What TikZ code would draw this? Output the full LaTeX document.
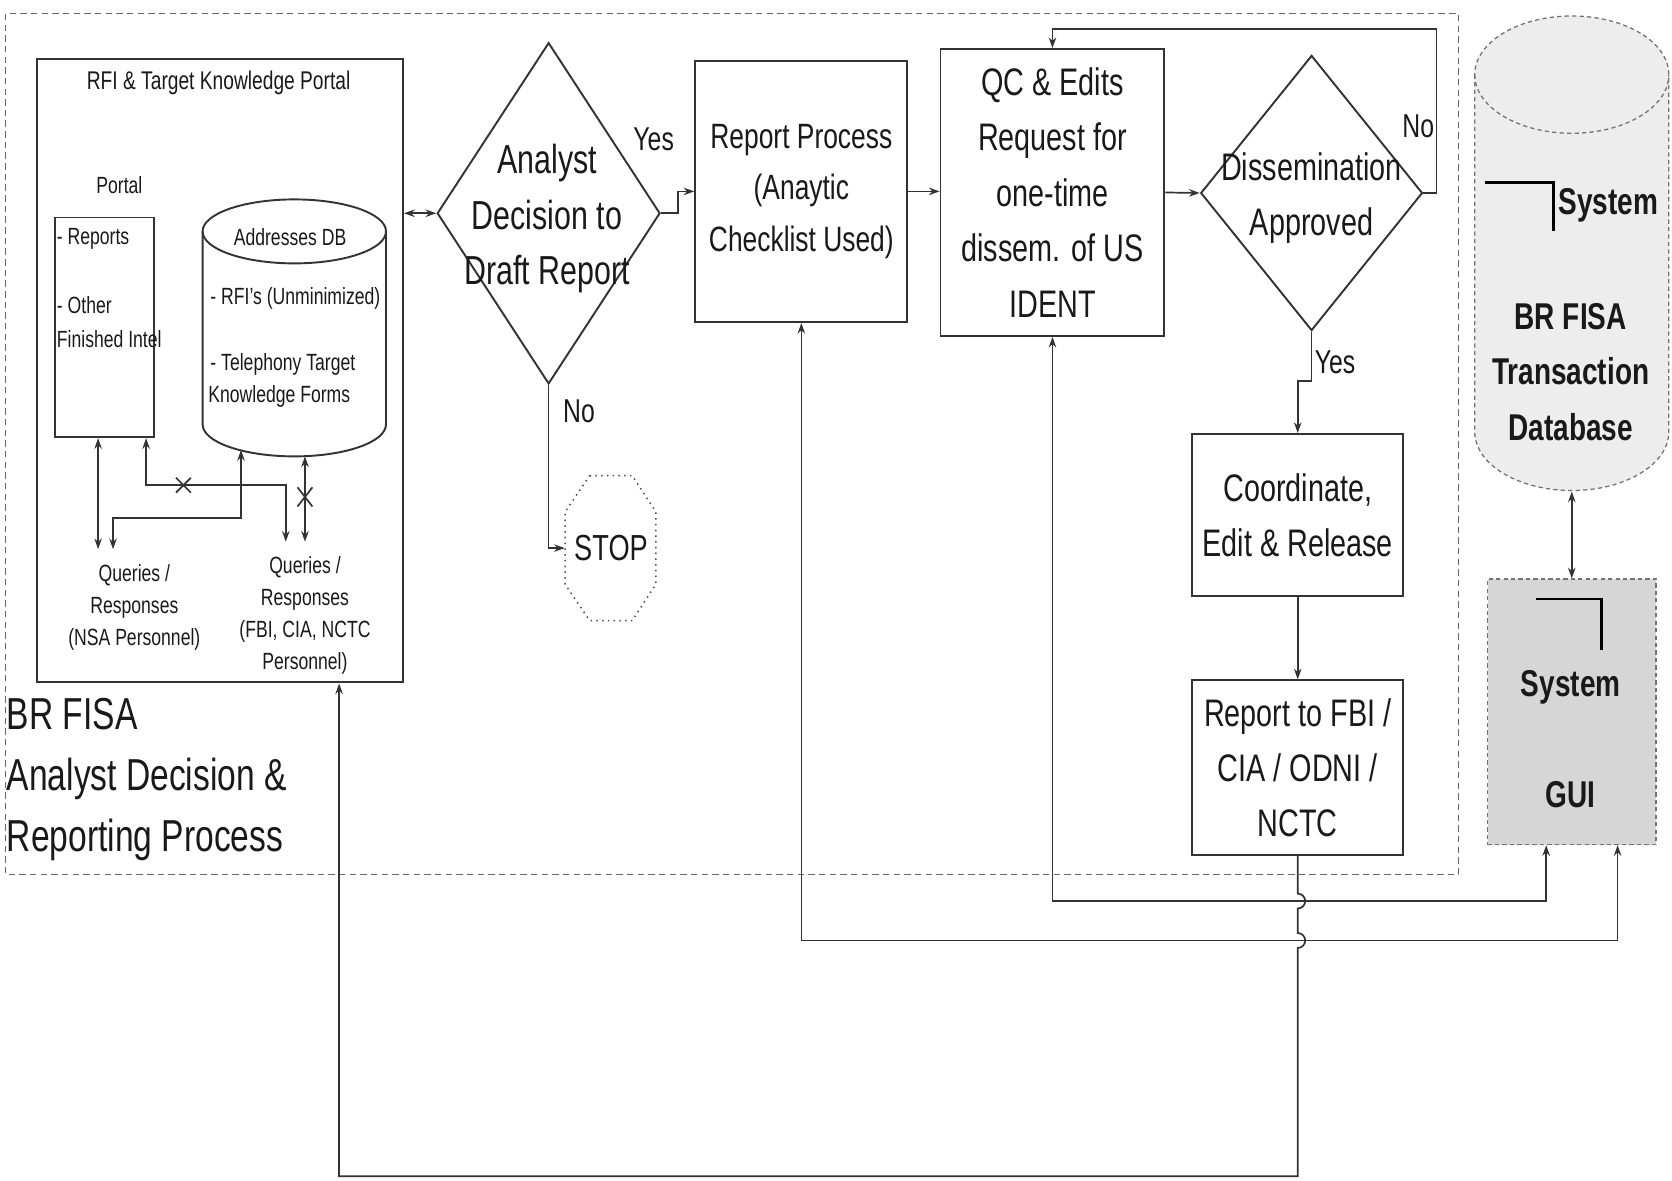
\documentclass[tikz,border=0pt]{standalone}
\usepackage{fontspec}
\setmainfont[FakeStretch=0.75]{Liberation Sans}
\usetikzlibrary{arrows.meta,shapes.geometric,calc}
\begin{document}
\begin{tikzpicture}[x=0.5pt,y=-0.5pt,
  ln/.style={draw=black!80, line width=0.8pt},
  arr/.style={ln, -{Stealth[length=5pt,width=3.5pt]}},
  darr/.style={ln, {Stealth[length=5pt,width=3.5pt]}-{Stealth[length=5pt,width=3.5pt]}},
  box/.style={draw=black!80, line width=0.9pt, inner sep=0pt, align=center, text=black!90},
  diam/.style={draw=black!80, line width=0.9pt, diamond, inner sep=0pt},
  big/.style={font=\fontsize{18}{26}\selectfont, align=center, text=black!90},
  small/.style={font=\fontsize{11}{15}\selectfont, align=center, text=black!90},
  lbl/.style={font=\fontsize{15.5}{18}\selectfont, text=black!90},
  rb/.style={font=\bfseries\fontsize{17.5}{26}\selectfont, align=center, text=black!90},
  ]
\useasboundingbox (0,0) rectangle (1568,1107);

% outer dashed frame
\draw[black!60, line width=0.6pt, dash pattern=on 3pt off 2pt] (5,13) rectangle (1368,820);

% ---------- portal ----------
\node[box, minimum width=171.5pt, minimum height=292.5pt] (portal) at (206.5,347.5) {};
\node[small, font=\fontsize{12}{15}\selectfont] (ptitle) at (205,78) {RFI \& Target Knowledge Portal};
\node[small] (plabel) at (112,174) {Portal};
\node[box, minimum width=46pt, minimum height=103pt] (reports) at (98,307) {};
\node[small, anchor=west, inner sep=0pt] (r1) at (53,224) {- Reports};
\node[small, anchor=west, inner sep=0pt] (r2) at (53,286) {- Other};
\node[small, anchor=west, inner sep=0pt] (r3) at (53,318) {Finished Intel};

% addresses DB cylinder
\draw[black!80, line width=0.9pt, fill=white] (190,217) -- (190,398)
  arc[start angle=180, end angle=360, x radius=43pt, y radius=15pt] -- (362,217);
\draw[black!80, line width=0.9pt] (276,217) ellipse[x radius=43pt, y radius=15pt];
\node[small] (dbt) at (272,222) {Addresses DB};
\node[small, anchor=west, inner sep=0pt] (db1) at (197,280) {- RFI's (Unminimized)};
\node[small, anchor=west, inner sep=0pt] (db2) at (197,342) {- Telephony Target};
\node[small, anchor=west, inner sep=0pt] (db3) at (195,372) {Knowledge Forms};
\coordinate (dbL) at (226,422);
\coordinate (dbR) at (286,428);

% queries
\node[small] (qnsa) at (126,570) {Queries /\\Responses\\(NSA Personnel)};
\node[small] (qfbi) at (286,577) {Queries /\\Responses\\(FBI, CIA, NCTC\\Personnel)};
\coordinate (nsaA) at (92,515);
\coordinate (nsaB) at (106,515);
\coordinate (fbiA) at (268,508);
\coordinate (fbiB) at (286,508);

\draw[darr] (reports.south -| nsaA) -- (nsaA);
\draw[darr] ([xshift=19.5pt]reports.south) -- (137,455) -- (268,455) -- (fbiA);
\draw[darr] (dbL) -- (226,486) -- (106,486) -- (nsaB);
\draw[darr] (dbR) -- (fbiB);
% blocked marks
\draw[ln] (165,448) -- (179,462) (165,462) -- (179,448);
\draw[ln] (279,457) -- (293,475) (279,475) -- (293,457);

% ---------- main flow ----------
\node[diam, minimum width=104.5pt, minimum height=160pt] (d1) at (514.5,200) {};
\node[big, font=\fontsize{19}{26}\selectfont] (d1t) at (513,205) {Analyst\\Decision to\\Draft Report};
\draw[darr] (portal.east |- d1.west) -- (d1.west);

\node[box, font=\fontsize{16.5}{24}\selectfont, minimum width=99.5pt, minimum height=122.5pt] (rp) at (751.5,179.5)
  {Report Process\\(Anaytic\\Checklist Used)};
\draw[arr] (d1.east) -- ++(8pt,0) |- (rp.west);
\node[lbl] (yes1) at (613,131) {Yes};

\node[inner sep=0pt, minimum width=43pt, minimum height=69pt, font=\fontsize{17}{20}\selectfont, text=black!90] (stop) at (573,514) {STOP};
\draw[black!70, line width=0.7pt, dotted] (553,446) -- (593,446) -- (615,480) -- (615,548) -- (593,582) -- (553,582) -- (530,548) -- (530,480) -- cycle;
\draw[arr] (d1.south) |- (stop.west);
\node[lbl] (no1) at (543,386) {No};

\node[box, big, minimum width=105pt, minimum height=134.5pt] (qc) at (987,180.5)
  {QC \& Edits\\Request for\\one-time\\dissem. of US\\IDENT};
\draw[arr] (rp.east) -- (qc.west |- rp.east);

\node[diam, minimum width=104pt, minimum height=129pt] (d2) at (1230,181) {};
\node[big] (d2t) at (1230,186) {Dissemination\\Approved};
\draw[arr] (qc.east) -- (d2.west);
\draw[arr] (d2.east) -| (1347,27) -| (qc.north);
\node[lbl] (no2) at (1330,118) {No};

\node[box, big, minimum width=99pt, minimum height=76pt] (cr) at (1217,483) {Coordinate,\\Edit \& Release};
\draw[arr] (d2.south) -- (1230,357) -| (cr.north);
\node[lbl] (yes2) at (1252,340) {Yes};

\node[box, big, minimum width=99pt, minimum height=82pt] (fbi) at (1217,720) {Report to FBI /\\CIA / ODNI /\\NCTC};
\draw[arr] (cr.south) -- (fbi.north);

% ---------- right side systems ----------
\path[fill=black!7] (1383,70) -- (1383,405)
  arc[start angle=180, end angle=360, x radius=45.5pt, y radius=27.5pt] -- (1565,70)
  arc[start angle=0, end angle=180, x radius=45.5pt, y radius=27.5pt] -- cycle;
\draw[black!55, line width=0.6pt, dash pattern=on 2pt off 1.5pt] (1383,70) -- (1383,405)
  arc[start angle=180, end angle=360, x radius=45.5pt, y radius=27.5pt] -- (1565,70)
  arc[start angle=0, end angle=180, x radius=45.5pt, y radius=27.5pt];
\draw[black!55, line width=0.6pt, dash pattern=on 2pt off 1.5pt] (1383,70)
  arc[start angle=180, end angle=360, x radius=45.5pt, y radius=27.5pt];
\draw[black, line width=1.1pt] (1393,171) -- (1457,171) -- (1457,217);
\node[rb, anchor=west, inner sep=0pt] (sys1) at (1461,193) {System};
\node[rb] (brdb) at (1473,349) {BR FISA\\Transaction\\Database};
\coordinate (dbbot) at (1474,461);

\node[draw=black!55, line width=0.6pt, dash pattern=on 2pt off 1.5pt, fill=black!16,
  minimum width=79pt, minimum height=124.5pt, inner sep=0pt] (gui) at (1474,667.5) {};
\draw[black, line width=1.1pt] (1440,562) -- (1502,562) -- (1502,610);
\node[rb] (sys2) at (1473,645) {System};
\node[rb] (guit) at (1473,745) {GUI};
\draw[darr] (dbbot) -- (gui.north);

% ---------- feedback lines ----------
\draw[darr] (qc.south) -- (qc.south |- 0,845) -| ([xshift=-12pt]gui.south);
\draw[darr] (rp.south) -- (rp.south |- 0,882) -| ([xshift=21.5pt]gui.south);
\draw[arr] (fbi.south) -- (1217,838) arc[start angle=90, end angle=-90, radius=3.5pt]
  -- (1217,875) arc[start angle=90, end angle=-90, radius=3.5pt]
  -- (1217,1103) -| ([xshift=55.75pt]portal.south);

% ---------- caption ----------
\node[anchor=west, inner sep=0pt, align=left, font=\fontsize{21}{28.5}\selectfont, text=black!90] (cap) at (6,731)
  {BR FISA\\Analyst Decision \&\\Reporting Process};
\end{tikzpicture}
\end{document}
